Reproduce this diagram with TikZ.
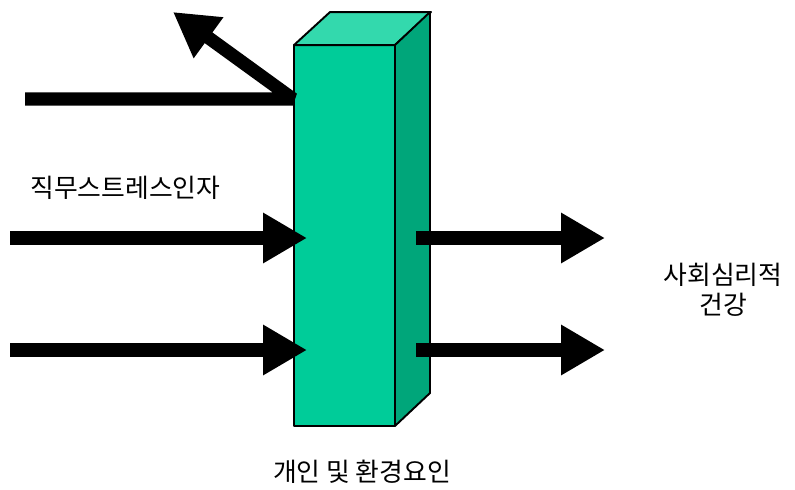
\documentclass[tikz,border=0pt]{standalone}
\usepackage{fontspec}
\setmainfont{Noto Sans CJK KR}
\usetikzlibrary{arrows.meta,positioning,calc}
\definecolor{front}{HTML}{00CC99}
\definecolor{topface}{HTML}{33D9AD}
\definecolor{sideface}{HTML}{00A67A}

\begin{document}
\begin{tikzpicture}[x=0.02cm,y=-0.02cm,
  face/.style={draw=black,line width=1.1pt,line join=round},
  arr/.style={-{Triangle[length=25pt,width=27pt]},line width=7.5pt,line join=bevel},
  lbl/.style={font=\fontsize{14.7}{16.8}\selectfont,align=center,inner sep=0pt}]
  \useasboundingbox (0,0) rectangle (795,490);
  % prism
  \node[face,fill=front,minimum width=2.02cm,minimum height=7.62cm,inner sep=0pt,outer sep=0pt] (front) at (344.5,235.5) {};
  \draw[face,fill=topface] (front.north west) -- ++(36,-33) -- ++(101,0) -- (front.north east) -- cycle;
  \draw[face,fill=sideface] (front.north east) -- ++(35,-33) -- ++(0,381) -- (front.south east) -- cycle;
  % arrows
  \coordinate (top0) at (25,99);
  \coordinate (bend) at (293,99);
  \coordinate (out0) at (173,12);
  \coordinate (in1) at (10,238);
  \coordinate (in2) at (10,350);
  \coordinate (tip1) at (307,238);
  \coordinate (tip2) at (307,350);
  \coordinate (res1) at (416,238);
  \coordinate (res2) at (416,350);
  \coordinate (end1) at (605,238);
  \coordinate (end2) at (605,350);
  \draw[arr] (top0) -- (bend) -- (out0);
  \draw[arr] (in1) -- (tip1);
  \draw[arr] (in2) -- (tip2);
  \draw[arr] (res1) -- (end1);
  \draw[arr] (res2) -- (end2);
  % labels
  \node[lbl,anchor=west] (stress) at (30,188) {직무스트레스인자};
  \node[lbl] (health) at (723,290) {사회심리적\\건강};
  \node[lbl] (factor) at (362,472) {개인 및 환경요인};
\end{tikzpicture}
\end{document}
